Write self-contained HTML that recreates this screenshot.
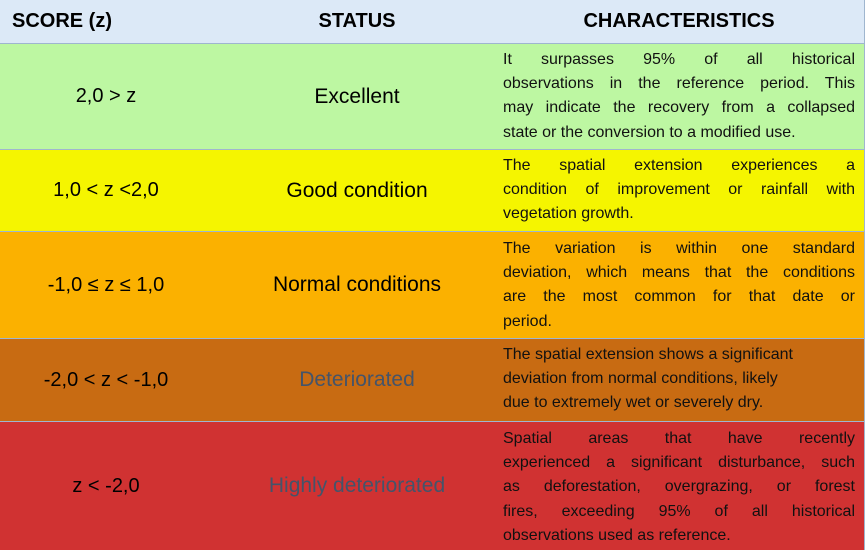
<!DOCTYPE html>
<html><head><meta charset="utf-8"><style>
body{margin:0;width:867px;height:550px;overflow:hidden;background:#fff;font-family:"Liberation Sans",sans-serif;}
.row{position:absolute;left:0;width:865px;border-bottom:1px solid #9fb6cf;border-right:1px solid #9fb6cf;box-sizing:border-box;}
.c{position:absolute;top:0;bottom:0;display:flex;align-items:center;justify-content:center;}
.c1{left:0;width:212px;font-size:20px;}
.c2{left:212px;width:290px;font-size:21px;}
.c3{left:503px;width:352px;display:block;font-size:16px;line-height:24.2px;color:#111;}
.c3 div{text-align:justify;text-align-last:justify;white-space:nowrap;}
.c3 div.l{text-align-last:left;}
.hd{font-weight:bold;font-size:20px;}
</style></head><body>
<div class="row" style="top:0;height:44px;background:#dce9f7;">
 <div class="c hd" style="left:12px;width:auto;">SCORE (z)</div>
 <div class="c hd" style="left:212px;width:290px;">STATUS</div>
 <div class="c hd" style="left:503px;width:352px;">CHARACTERISTICS</div>
</div>
<div class="row" style="top:44px;height:106px;background:#bdf7a2;">
 <div class="c c1">2,0 &gt; z</div>
 <div class="c c2">Excellent</div>
 <div class="c c3" style="top:4px;">
  <div>It surpasses 95% of all historical</div><div>observations in the reference period. This</div><div>may indicate the recovery from a collapsed</div><div class="l">state or the conversion to a modified use.</div></div>
</div>
<div class="row" style="top:150px;height:82px;background:#f5f500;">
 <div class="c c1">1,0 &lt; z &lt;2,0</div>
 <div class="c c2">Good condition</div>
 <div class="c c3" style="top:4px;">
  <div>The spatial extension experiences a</div><div>condition of improvement or rainfall with</div><div class="l">vegetation growth.</div></div>
</div>
<div class="row" style="top:232px;height:107px;background:#fbb100;">
 <div class="c c1">-1,0 ≤ z ≤ 1,0</div>
 <div class="c c2">Normal conditions</div>
 <div class="c c3" style="top:5px;">
  <div>The variation is within one standard</div><div>deviation, which means that the conditions</div><div>are the most common for that date or</div><div class="l">period.</div></div>
</div>
<div class="row" style="top:339px;height:83px;background:#c86b12;">
 <div class="c c1">-2,0 &lt; z &lt; -1,0</div>
 <div class="c c2" style="color:#44546a;">Deteriorated</div>
 <div class="c c3" style="top:4px;">
  <div class="l">The spatial extension shows a significant</div><div class="l">deviation from normal conditions, likely</div><div class="l">due to extremely wet or severely dry.</div></div>
</div>
<div class="row" style="top:422px;height:128px;background:#d03232;border-bottom:none;">
 <div class="c c1">z &lt; -2,0</div>
 <div class="c c2" style="color:#44546a;">Highly deteriorated</div>
 <div class="c c3" style="top:5px;">
  <div>Spatial areas that have recently</div><div>experienced a significant disturbance, such</div><div>as deforestation, overgrazing, or forest</div><div>fires, exceeding 95% of all historical</div><div class="l">observations used as reference.</div></div>
</div>
</body></html>
